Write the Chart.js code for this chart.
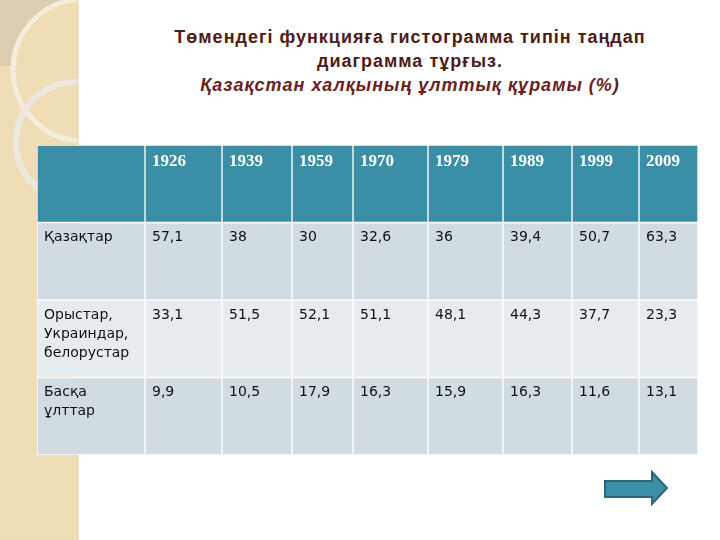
<!DOCTYPE html>
<html>
<head>
<meta charset="utf-8">
<script src="https://cdn.jsdelivr.net/npm/chart.js@4.4.1/dist/chart.umd.min.js"></script>
<style>
  html, body { margin: 0; padding: 0; background: #fff; }
  #slide { position: relative; width: 720px; height: 540px; overflow: hidden; }
  #deco { position: absolute; left: 0; top: 0; }
  #table { position: absolute; left: 0; top: 0; }
  #title {
    position: absolute; left: 100px; width: 620px; top: 25px;
    text-align: center; font: bold 18px "Liberation Sans", Arial, sans-serif;
    letter-spacing: 1px; line-height: 24px; color: #4e1c17;
  }
  #title .sub { font-style: italic; color: #6b1e1e; }
</style>
</head>
<body>
<div id="slide">
  <svg id="deco" width="720" height="540">
    <defs>
      <pattern id="weave" width="4" height="4" patternUnits="userSpaceOnUse">
        <rect width="4" height="4" fill="#f2e0bb"/>
        <rect width="2" height="2" fill="#eddab1"/>
        <rect x="2" y="2" width="2" height="2" fill="#eddab1"/>
      </pattern>
      <clipPath id="stripClip"><rect x="0" y="0" width="78" height="540"/></clipPath>
    </defs>
    <rect x="0" y="0" width="78" height="540" fill="url(#weave)"/>
    <g clip-path="url(#stripClip)">
      <rect x="0" y="0" width="78" height="66" fill="#dccdb2"/>
      <circle cx="84" cy="70" r="71" fill="url(#weave)"/>
      <circle cx="84" cy="70" r="71" fill="none" stroke="#f5eddc" stroke-width="5"/>
      <circle cx="76" cy="142" r="60" fill="none" stroke="#ece8e0" stroke-width="6"/>
    </g>
    <line x1="78" y1="0" x2="78" y2="540" stroke="#e2cfa6" stroke-width="1"/>
    <polygon points="605,481 652,481 652,472 667,488 652,504 652,497 605,497"
             fill="#3b8fa6" stroke="#2a6578" stroke-width="2" stroke-linejoin="miter"/>
  </svg>

  <div id="title">
    Төмендегі функцияға гистограмма типін таңдап<br>
    диаграмма тұрғыз.<br>
    <span class="sub">Қазақстан халқының ұлттық құрамы (%)</span>
  </div>

  <canvas id="table" width="720" height="540"></canvas>
</div>

<script>
// data
const years = ["1926", "1939", "1959", "1970", "1979", "1989", "1999", "2009"];
const groups = ["Қазақтар", "Орыстар,\nУкраиндар,\nбелорустар", "Басқа\nұлттар"];
const kazakhs = [57.1, 38, 30, 32.6, 36, 39.4, 50.7, 63.3];
const slavs = [33.1, 51.5, 52.1, 51.1, 48.1, 44.3, 37.7, 23.3];
const others = [9.9, 10.5, 17.9, 16.3, 15.9, 16.3, 11.6, 13.1];
const series = [kazakhs, slavs, others];

// layout: column widths in px (first column holds the row names)
const colWidths = [108, 77, 70, 61, 75, 75, 69, 67, 59];
const rowColors = ["#3a8ea5", "#d0dce2", "#e6ebed", "#d0dce2"];

const rowLabels = [""].concat(groups);
const edges = [0];
colWidths.forEach(w => edges.push(edges[edges.length - 1] + w));

// one dataset per column, one bar per row
const datasets = colWidths.map((w, c) => ({
  label: c === 0 ? "" : years[c - 1],
  data: rowLabels.map(() => [edges[c], edges[c + 1]]),
  backgroundColor: rowColors,
  borderColor: "#ffffff",
  borderWidth: 1,
  borderSkipped: false,
  grouped: false,
  barPercentage: 1,
  categoryPercentage: 1
}));

function fmt(v) {
  return String(v).replace(".", ",");
}

const cellText = {
  id: "cellText",
  afterDatasetsDraw(chart) {
    const ctx = chart.ctx;
    ctx.save();
    ctx.textBaseline = "top";
    ctx.textAlign = "left";
    chart.data.datasets.forEach((ds, c) => {
      const meta = chart.getDatasetMeta(c);
      meta.data.forEach((el, r) => {
        const p = el.getProps(["x", "y", "base", "height"], true);
        const left = Math.min(p.x, p.base);
        const top = p.y - p.height / 2;
        let text;
        if (r === 0) {
          text = c === 0 ? "" : years[c - 1];
          ctx.font = 'bold 17px "Liberation Serif", serif';
          ctx.fillStyle = "#ffffff";
        } else {
          text = c === 0 ? groups[r - 1] : fmt(series[r - 1][c - 1]);
          ctx.font = '14px "DejaVu Sans", sans-serif';
          ctx.fillStyle = "#111111";
        }
        text.split("\n").forEach((line, i) => {
          ctx.fillText(line, left + 7, top + 8 + i * 19);
        });
      });
    });
    ctx.restore();
  }
};

new Chart(document.getElementById("table"), {
  type: "bar",
  data: { labels: rowLabels, datasets: datasets },
  options: {
    indexAxis: "y",
    responsive: false,
    animation: false,
    layout: { padding: { left: 37, right: 22, top: 145, bottom: 85 } },
    scales: {
      x: { type: "linear", min: 0, max: edges[edges.length - 1], display: false },
      y: { type: "category", display: false }
    },
    plugins: {
      legend: { display: false },
      tooltip: { enabled: false }
    }
  },
  plugins: [cellText]
});
</script>
</body>
</html>
